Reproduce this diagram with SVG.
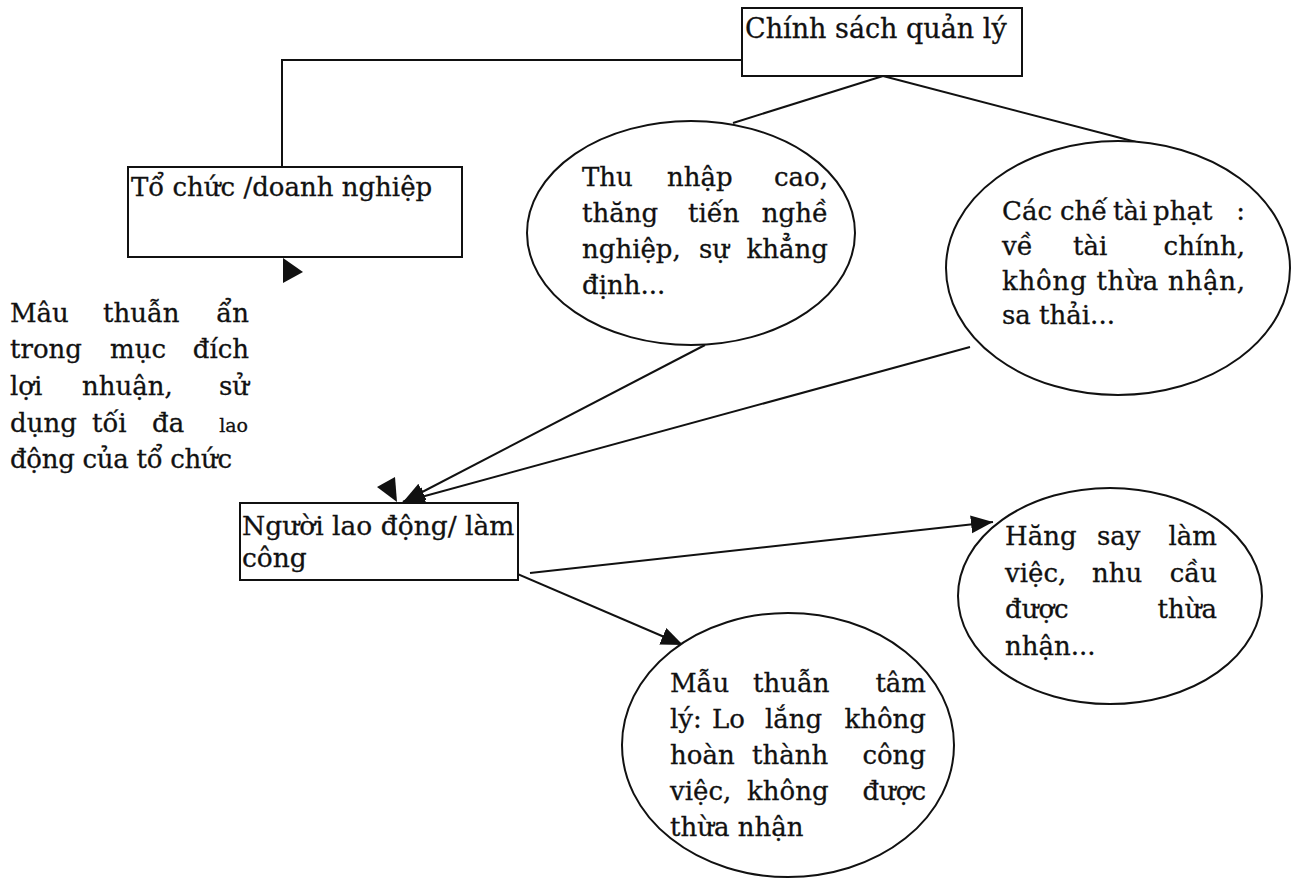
<svg xmlns="http://www.w3.org/2000/svg" width="1301" height="879" viewBox="0 0 1301 879">
<style>
.box{fill:#fff;stroke:#111;stroke-width:2}
.ell{fill:#fff;stroke:#111;stroke-width:2}
.con{fill:none;stroke:#111;stroke-width:2}
.lbl{font-family:"DejaVu Serif","Liberation Serif",serif;font-size:26.5px;fill:#111;stroke:#111;stroke-width:0.3}
.t{font-family:"DejaVu Serif","Liberation Serif",serif;font-size:26px;fill:#111;stroke:#111;stroke-width:0.3}
.e{text-anchor:end}
.sm{font-size:19px}
.head{fill:#111}
</style>
<defs>
<marker id="arr" markerUnits="userSpaceOnUse" markerWidth="24" markerHeight="20" refX="22" refY="9" orient="auto">
<path d="M0,0 L22,9 L0,18 z" fill="#111"/>
</marker>
</defs>
<rect width="1301" height="879" fill="#fff"/>

<g id="connectors">
<polyline class="con" points="742,60 282,60 282,167"/>
<line class="con" x1="883" y1="76" x2="733" y2="123"/>
<line class="con" x1="883" y1="76" x2="1140" y2="143"/>
<line class="con" x1="705" y1="345" x2="403" y2="502" marker-end="url(#arr)"/>
<line class="con" x1="970" y1="347" x2="403" y2="502" marker-end="url(#arr)"/>
<line class="con" x1="530" y1="573" x2="993" y2="522" marker-end="url(#arr)"/>
<line class="con" x1="508" y1="570" x2="683" y2="645" marker-end="url(#arr)"/>
<polygon class="head" points="283,258 303,272 283,283"/>
<polygon class="head" points="377,487 395,477 397,502"/>
</g>

<g id="chinh-sach">
<rect class="box" x="742" y="8" width="280" height="68"/>
<text class="lbl" x="745" y="38" style="font-size:27px">Chính sách quản lý</text>
</g>

<g id="to-chuc">
<rect class="box" x="128" y="167" width="334" height="90"/>
<text class="lbl" x="131" y="196" style="font-size:26px">Tổ chức /doanh nghiệp</text>
</g>

<g id="mau-thuan-an">
<text class="t" y="322"><tspan x="10">Mâu</tspan><tspan x="103">thuẫn</tspan><tspan x="249" class="e">ẩn</tspan></text>
<text class="t" y="358"><tspan x="10">trong</tspan><tspan x="110">mục</tspan><tspan x="249" class="e">đích</tspan></text>
<text class="t" y="395"><tspan x="10">lợi</tspan><tspan x="82">nhuận,</tspan><tspan x="249" class="e">sử</tspan></text>
<text class="t" y="432"><tspan x="10">dụng</tspan><tspan x="92">tối</tspan><tspan x="152">đa</tspan><tspan x="248" class="e sm">lao</tspan></text>
<text class="t" x="10" y="468" textLength="222">động của tổ chức</text>
</g>

<g id="nguoi-lao-dong">
<rect class="box" x="240" y="503" width="278" height="77"/>
<text class="lbl" x="242" y="535">Người lao động/ làm</text>
<text class="lbl" x="242" y="567">công</text>
</g>

<g id="thu-nhap">
<ellipse class="ell" cx="691" cy="233" rx="164" ry="112"/>
<text class="t" y="186"><tspan x="582">Thu</tspan><tspan x="667">nhập</tspan><tspan x="828" class="e">cao,</tspan></text>
<text class="t" y="222"><tspan x="582">thăng</tspan><tspan x="688">tiến</tspan><tspan x="828" class="e">nghề</tspan></text>
<text class="t" y="258"><tspan x="582">nghiệp,</tspan><tspan x="699">sự</tspan><tspan x="828" class="e">khẳng</tspan></text>
<text class="t" x="582" y="294">định...</text>
</g>

<g id="che-tai">
<ellipse class="ell" cx="1118" cy="268" rx="172" ry="127"/>
<text class="t" y="220"><tspan x="1002">Các</tspan><tspan x="1060">chế</tspan><tspan x="1113">tài</tspan><tspan x="1153">phạt</tspan><tspan x="1245" class="e">:</tspan></text>
<text class="t" y="255"><tspan x="1002">về</tspan><tspan x="1073">tài</tspan><tspan x="1245" class="e">chính,</tspan></text>
<text class="t" x="1002" y="290" textLength="243">không thừa nhận,</text>
<text class="t" x="1002" y="324">sa thải...</text>
</g>

<g id="hang-say">
<ellipse class="ell" cx="1110" cy="596" rx="152" ry="108"/>
<text class="t" y="545"><tspan x="1005">Hăng</tspan><tspan x="1097">say</tspan><tspan x="1217" class="e">làm</tspan></text>
<text class="t" y="582"><tspan x="1005">việc,</tspan><tspan x="1092">nhu</tspan><tspan x="1217" class="e">cầu</tspan></text>
<text class="t" y="618"><tspan x="1005">được</tspan><tspan x="1217" class="e">thừa</tspan></text>
<text class="t" x="1005" y="655">nhận...</text>
</g>

<g id="mau-thuan-tam-ly">
<ellipse class="ell" cx="788" cy="745" rx="166" ry="132"/>
<text class="t" y="692"><tspan x="670">Mẫu</tspan><tspan x="753">thuẫn</tspan><tspan x="926" class="e">tâm</tspan></text>
<text class="t" y="728"><tspan x="670">lý:</tspan><tspan x="712">Lo</tspan><tspan x="765">lắng</tspan><tspan x="926" class="e">không</tspan></text>
<text class="t" y="764"><tspan x="670">hoàn</tspan><tspan x="752">thành</tspan><tspan x="926" class="e">công</tspan></text>
<text class="t" y="800"><tspan x="670">việc,</tspan><tspan x="747">không</tspan><tspan x="926" class="e">được</tspan></text>
<text class="t" x="670" y="836">thừa nhận</text>
</g>
</svg>
